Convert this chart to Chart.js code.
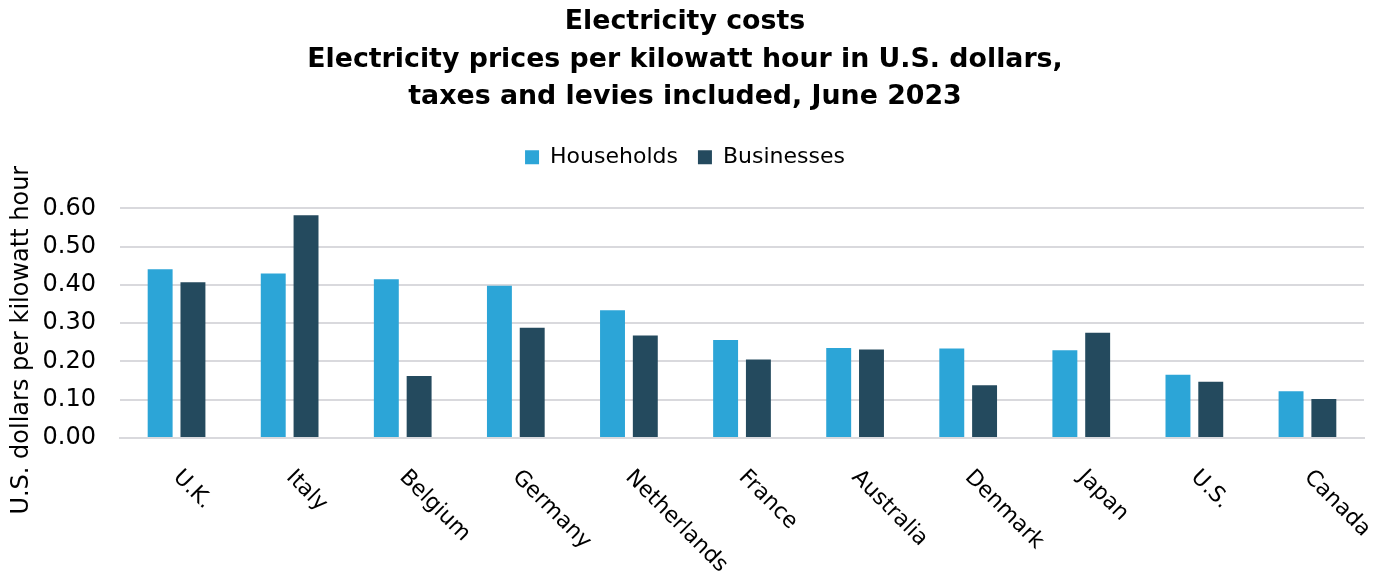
<!DOCTYPE html>
<html>
<head>
<meta charset="utf-8">
<script src="https://cdn.jsdelivr.net/npm/chart.js@4"></script>
<style>
    body { margin: 0; background: #fff; }
    #wrap { width: 1385px; height: 573px; }
</style>
</head>
<body>
<div id="wrap"><canvas id="chartCostos" width="1385" height="573"></canvas></div>
<script>
/* --- datos --------------------------------------------------------------- */
const paises = ['U.K.', 'Italy', 'Belgium', 'Germany', 'Netherlands', 'France',
    'Australia', 'Denmark', 'Japan', 'U.S.', 'Canada'];
const hogares = [0.441, 0.430, 0.415, 0.398, 0.334, 0.256, 0.235, 0.234, 0.229, 0.165, 0.122];
const empresas = [0.407, 0.582, 0.162, 0.288, 0.268, 0.205, 0.231, 0.138, 0.275, 0.147, 0.102];
const tituloLineas = [
    'Electricity costs',
    'Electricity prices per kilowatt hour in U.S. dollars,',
    'taxes and levies included, June 2023'
];
const ejeY = 'U.S. dollars per kilowatt hour';

const FUENTE = "'DejaVu Sans', sans-serif";

/* etiquetas del eje x giradas hacia abajo (Chart.js solo las gira hacia arriba) */
const etiquetasX = {
    id: 'etiquetasX',
    afterDraw(chart) {
        const x = chart.scales.x;
        const ctx = chart.ctx;
        ctx.save();
        ctx.font = '22px ' + FUENTE;
        ctx.fillStyle = '#000';
        ctx.textAlign = 'left';
        ctx.textBaseline = 'middle';
        x.ticks.forEach((t, i) => {
            const px = x.getPixelForTick(i);
            ctx.save();
            ctx.translate(px, x.top + 36);
            ctx.rotate(Math.PI / 4);
            ctx.fillText(paises[i], 0, 0);
            ctx.restore();
        });

        /* titulo del eje y, algo mas abajo que el centro del area */
        const y = chart.scales.y;
        ctx.save();
        ctx.font = '24px ' + FUENTE;
        ctx.textAlign = 'center';
        ctx.textBaseline = 'middle';
        ctx.translate(22, (y.top + y.bottom) / 2 + 17);
        ctx.rotate(-Math.PI / 2);
        ctx.fillText(ejeY, 0, 0);
        ctx.restore();
        ctx.restore();
    }
};

/* espacio extra bajo la leyenda */
const espacioLeyenda = {
    id: 'espacioLeyenda',
    beforeInit(chart) {
        const fitOrig = chart.legend.fit;
        chart.legend.fit = function () {
            fitOrig.bind(chart.legend)();
            this.height += 30;
        };
    }
};

new Chart(document.getElementById('chartCostos'), {
    type: 'bar',
    data: {
        labels: paises,
        datasets: [
            { label: 'Households', data: hogares, backgroundColor: '#2ca5d7' },
            { label: 'Businesses', data: empresas, backgroundColor: '#244a5e' }
        ]
    },
    options: {
        responsive: false,
        devicePixelRatio: 1,
        animation: false,
        datasets: { bar: { barPercentage: 0.76, categoryPercentage: 0.58 } },
        layout: { padding: { left: 6, right: 21, top: 3, bottom: 0 } },
        plugins: {
            title: {
                display: true,
                text: tituloLineas,
                color: '#000',
                font: { family: FUENTE, size: 26.8, weight: 'bold', lineHeight: 1.41 },
                padding: { top: 0, bottom: 10 }
            },
            legend: {
                labels: {
                    color: '#000',
                    font: { family: FUENTE, size: 22 },
                    boxWidth: 14,
                    boxHeight: 14,
                    padding: 20
                }
            },
            tooltip: { enabled: false }
        },
        scales: {
            x: {
                grid: { display: false },
                border: { color: '#d9d9dd', width: 2 },
                ticks: { display: false },
                afterFit(s) { s.height = 135; }
            },
            y: {
                min: 0,
                max: 0.6,
                ticks: {
                    stepSize: 0.1,
                    color: '#000',
                    font: { family: FUENTE, size: 24 },
                    padding: 24,
                    callback: v => v.toFixed(2)
                },
                grid: { color: '#d9d9dd', lineWidth: 2, drawTicks: false },
                border: { display: false },
                afterFit(s) { s.width = 114; }
            }
        }
    },
    plugins: [etiquetasX, espacioLeyenda]
});
</script>
</body>
</html>
